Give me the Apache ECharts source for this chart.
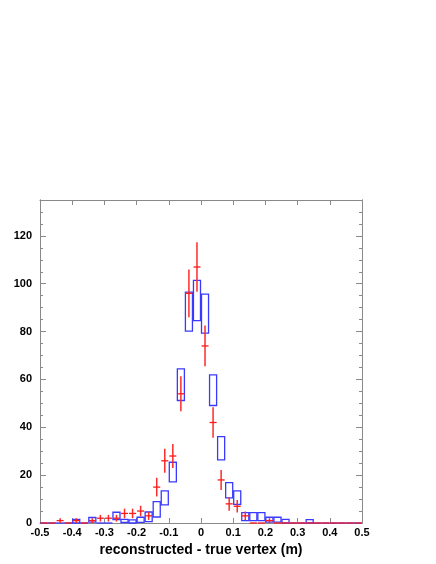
<!DOCTYPE html>
<html>
<head>
<meta charset="utf-8">
<script src="https://cdn.jsdelivr.net/npm/echarts@6/dist/echarts.min.js"></script>
<style>
html,body{margin:0;padding:0;background:#fff;}
#chart{width:436px;height:564px;}
</style>
</head>
<body>
<div id="chart"></div>
<script>
// Bin edges (40 bins of 0.025 from -0.5 to 0.5)
const binEdges = [-0.5,-0.475,-0.45,-0.425,-0.4,-0.375,-0.35,-0.325,-0.3,-0.275,
  -0.25,-0.225,-0.2,-0.175,-0.15,-0.125,-0.1,-0.075,-0.05,-0.025,
  0,0.025,0.05,0.075,0.1,0.125,0.15,0.175,0.2,0.225,
  0.25,0.275,0.3,0.325,0.35,0.375,0.4,0.425,0.45,0.475,0.5];
// Blue boxes: lower and upper edge per bin
const blueLow = [0,0,0,0,0,0,0.4,0,0,1.4,
  0.2,0,0.3,0.6,2.5,7.6,17.2,51.2,80.2,84.6,
  79.4,49.1,26.4,10.5,7.8,1.0,1.0,1.0,0.4,0.4,
  0,0,0,0,0,0,0,0,0,0];
const blueHigh = [0,0,0,0,1.5,0,2.3,0,0,4.5,
  1.5,1.3,2.4,4.6,8.9,13.4,25.4,64.4,96.5,101.4,
  95.7,61.9,36.1,16.9,13.4,4.3,4.3,4.3,2.4,2.4,
  1.5,0,0,1.4,0,0,0,0,0,0];
// Red data points: counts and error half-widths per bin
const redCounts = [0,0,1,0,1,0,1,2,2,2,
  4,4,5,3,15,26,28,54,96,107,
  74,42,18,8,7,3,0,0,1,0,
  0,0,0,0,0,0,0,0,0,0];
const redErr = [0,0,1,0,1,0,1,1.4,1.4,1.4,
  2,2,2.2,1.7,3.9,5,5,7.3,10,10.3,
  8.5,6.4,4.2,2.9,2.6,1.8,0,0,1,0,
  0,0,0,0,0,0,0,0,0,0];
const xTicks = [-0.5,-0.4,-0.3,-0.2,-0.1,0,0.1,0.2,0.3,0.4,0.5];
const yTicks = [0,20,40,60,80,100,120];

const boxData = [];
const crossData = [];
for (let i = 0; i < binEdges.length - 1; i++) {
  const x0 = binEdges[i], x1 = binEdges[i+1];
  boxData.push([x0, x1, blueLow[i], blueHigh[i]]);
  crossData.push([(x0 + x1) / 2, redCounts[i], redCounts[i] - redErr[i], redCounts[i] + redErr[i], x0, x1]);
}

const FONT = "'Liberation Sans', Arial, Helvetica, sans-serif";
const AX = '#8a8a8a';
const chart = echarts.init(document.getElementById('chart'), null, {renderer: 'canvas'});

function yAx(pos, interval, len, labels) {
  return {
    type: 'value', position: pos, offset: 0, min: 0, max: 135, interval: interval,
    axisLine: {show: true, onZero: false, lineStyle: {color: AX, width: 1}},
    axisTick: {show: true, inside: true, length: len, lineStyle: {color: AX}},
    splitLine: {show: false},
    axisLabel: labels ? {
      show: true, margin: 8, color: '#000', fontFamily: FONT, fontSize: 11, fontWeight: 'bold',
      formatter: v => (yTicks.indexOf(Math.round(v)) >= 0 && Math.abs(v - Math.round(v)) < 1e-6) ? String(Math.round(v)) : ''
    } : {show: false},
    name: labels ? 'number of events' : '',
    nameLocation: 'middle', nameGap: 25,
    nameTextStyle: {color: '#000', fontFamily: FONT, fontSize: 13, fontWeight: 'bold'}
  };
}
function xAx(pos, labels) {
  return {
    type: 'value', position: pos, offset: 0, min: -0.5, max: 0.5, interval: 0.1,
    axisLine: {show: true, onZero: false, lineStyle: {color: AX, width: 1}},
    axisTick: {show: true, inside: true, length: 5, lineStyle: {color: AX}},
    splitLine: {show: false},
    axisLabel: labels ? {
      show: true, margin: 4, color: '#000', fontFamily: FONT, fontSize: 11, fontWeight: 'bold',
      formatter: v => {
        const r = Math.round(v * 10) / 10;
        return xTicks.indexOf(r) >= 0 ? String(r) : '';
      }
    } : {show: false},
    name: labels ? 'reconstructed - true vertex (m)' : '',
    nameLocation: 'middle', nameGap: 18,
    nameTextStyle: {color: '#000', fontFamily: FONT, fontSize: 14, fontWeight: 'bold'}
  };
}

chart.setOption({
  animation: false,
  backgroundColor: '#fff',
  grid: {left: 40, top: 200, width: 322, height: 323, containLabel: false, outerBoundsMode: 'none'},
  xAxis: [xAx('bottom', true), xAx('top', false)],
  yAxis: [yAx('left', 20, 6, true), yAx('left', 5, 3, false), yAx('right', 20, 6, false), yAx('right', 5, 3, false)],
  series: [
    {
      type: 'custom', name: 'boxes', xAxisIndex: 0, yAxisIndex: 0,
      data: boxData, encode: {x: [0, 1], y: [2, 3]}, clip: false,
      renderItem: function (params, api) {
        const p0 = api.coord([api.value(0), api.value(3)]);
        const p1 = api.coord([api.value(1), api.value(2)]);
        const h = p1[1] - p0[1];
        if (h < 0.5) {
          return {type: 'line', shape: {x1: p0[0], y1: p1[1], x2: p1[0], y2: p1[1]},
            style: {stroke: '#3a3aff', lineWidth: 1.3}};
        }
        return {type: 'rect', shape: {x: p0[0] + 0.5, y: p0[1], width: p1[0] - p0[0] - 1, height: h},
          style: {stroke: '#3a3aff', fill: 'none', lineWidth: 1.3}};
      }
    },
    {
      type: 'custom', name: 'data', xAxisIndex: 0, yAxisIndex: 0,
      data: crossData, encode: {x: [0, 4, 5], y: [1, 2, 3]}, clip: false,
      renderItem: function (params, api) {
        const c = api.coord([api.value(0), api.value(1)]);
        const lo = api.coord([api.value(0), Math.max(0, api.value(2))]);
        const hi = api.coord([api.value(0), api.value(3)]);
        const l = api.coord([api.value(4), api.value(1)]);
        const r = api.coord([api.value(5), api.value(1)]);
        return {type: 'group', children: [
          {type: 'line', shape: {x1: c[0], y1: lo[1], x2: c[0], y2: hi[1]}, style: {stroke: '#ff2a2a', lineWidth: 1.5}},
          {type: 'line', shape: {x1: l[0] + 0.5, y1: c[1], x2: r[0] - 0.5, y2: c[1]}, style: {stroke: '#ff1a1a', lineWidth: 1.3}}
        ]};
      }
    }
  ]
});
</script>
</body>
</html>
